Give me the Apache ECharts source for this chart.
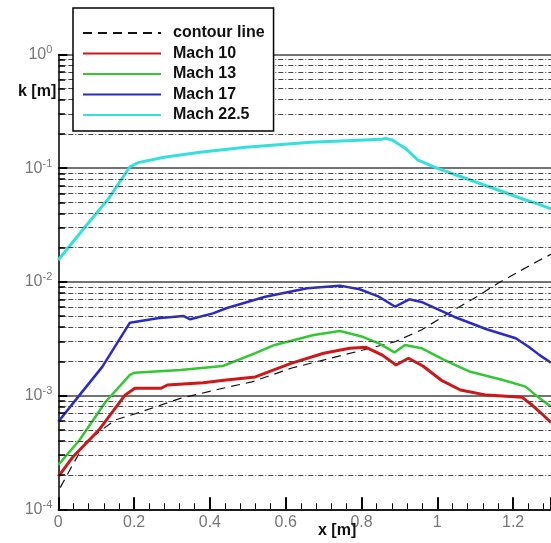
<!DOCTYPE html>
<html>
<head>
<meta charset="utf-8">
<script src="https://cdn.jsdelivr.net/npm/echarts@6/dist/echarts.min.js"></script>
<style>
html,body{margin:0;padding:0;background:#fff;}
#chart{width:551px;height:543px;}
</style>
</head>
<body>
<div id="chart"></div>
<script>
// ---- data (x [m], k [m]) ----
const seriesNames = ['contour line', 'Mach 10', 'Mach 13', 'Mach 17', 'Mach 22.5'];
const xTicks = [0, 0.2, 0.4, 0.6, 0.8, 1, 1.2];
const yDecades = [1e-4, 1e-3, 1e-2, 1e-1, 1];

const contour = [[0.005,1.55e-4],[0.035,2.37e-4],[0.073,3.94e-4],[0.15,6.1e-4],[0.219,7.2e-4],[0.322,9.46e-4],
  [0.434,1.16e-3],[0.511,1.32e-3],[0.614,1.74e-3],[0.786,2.43e-3],[0.889,2.98e-3],[0.958,3.78e-3],
  [1.044,5.66e-3],[1.104,7.41e-3],[1.16,9.73e-3],[1.263,1.51e-2],[1.3,1.75e-2]];

const mach10 = [[0,1.94e-4],[0.039,2.9e-4],[0.107,4.98e-4],[0.176,1.01e-3],[0.202,1.16e-3],[0.271,1.16e-3],
  [0.288,1.24e-3],[0.382,1.3e-3],[0.443,1.37e-3],[0.52,1.46e-3],[0.614,1.92e-3],[0.7,2.36e-3],
  [0.769,2.61e-3],[0.812,2.66e-3],[0.855,2.27e-3],[0.891,1.86e-3],[0.924,2.13e-3],[0.962,1.82e-3],
  [1.01,1.37e-3],[1.061,1.12e-3],[1.13,1.01e-3],[1.224,9.66e-4],[1.25,8.26e-4],[1.27,7.21e-4],[1.3,5.8e-4]];

const mach13 = [[0,2.45e-4],[0.056,4.07e-4],[0.125,8.83e-4],[0.189,1.52e-3],[0.202,1.59e-3],[0.322,1.68e-3],
  [0.434,1.82e-3],[0.52,2.36e-3],[0.571,2.79e-3],[0.674,3.41e-3],[0.743,3.7e-3],[0.803,3.29e-3],
  [0.846,2.88e-3],[0.887,2.4e-3],[0.915,2.79e-3],[0.958,2.61e-3],[1.018,2.06e-3],[1.087,1.62e-3],
  [1.173,1.37e-3],[1.233,1.2e-3],[1.27,9.46e-4],[1.3,8.0e-4]];

const mach17 = [[0,5.89e-4],[0.056,1.01e-3],[0.116,1.79e-3],[0.189,4.38e-3],[0.262,4.79e-3],[0.331,5.01e-3],
  [0.348,4.69e-3],[0.408,5.29e-3],[0.443,5.86e-3],[0.546,7.41e-3],[0.657,8.79e-3],[0.743,9.27e-3],
  [0.795,8.61e-3],[0.846,7.41e-3],[0.889,6.05e-3],[0.926,7.03e-3],[0.958,6.66e-3],[1.044,4.94e-3],
  [1.13,3.83e-3],[1.207,3.19e-3],[1.241,2.69e-3],[1.27,2.27e-3],[1.3,1.95e-3]];

const mach225 = [[0,1.56e-2],[0.064,2.86e-2],[0.133,5.43e-2],[0.189,0.103],[0.211,0.112],[0.279,0.125],
  [0.374,0.138],[0.494,0.153],[0.666,0.169],[0.855,0.18],[0.863,0.183],[0.881,0.177],[0.915,0.15],
  [0.949,0.118],[1.001,0.0998],[1.087,0.0787],[1.173,0.0621],[1.233,0.0525],[1.267,0.0484],[1.3,0.044]];

// minor gridline positions (2..9 x each decade)
const minorLines = [];
for (let d = 0; d < yDecades.length - 1; d++) {
  for (let m = 2; m <= 9; m++) minorLines.push(+(m * yDecades[d]).toPrecision(3));
}
const X_MIN = 0, X_MAX = 1.3;

const chart = echarts.init(document.getElementById('chart'), null, {renderer: 'canvas'});
const font = '"Liberation Sans", Arial, sans-serif';

const option = {
  backgroundColor: '#fff',
  animation: false,
  grid: {left: 58.3, right: -11.6, top: 54.5, bottom: 33.7, containLabel: false},
  legend: {
    data: seriesNames,
    orient: 'vertical',
    left: 73, top: 8,
    padding: [17, 9, 8, 9],
    itemWidth: 78, itemHeight: 14,
    itemGap: 4.5,
    backgroundColor: '#fff',
    borderColor: '#000', borderWidth: 1.5,
    itemStyle: {opacity: 0},
    textStyle: {fontFamily: font, fontWeight: 'bold', fontSize: 16, color: '#111', lineHeight: 16, padding: [0,0,0,7]},
    z: 10
  },
  xAxis: {
    type: 'value', min: X_MIN, max: X_MAX, interval: 0.2,
    axisLine: {show: true, onZero: false, lineStyle: {color: '#000', width: 1.5}},
    axisTick: {show: true, inside: true, length: 12, lineStyle: {color: '#000', width: 2}},
    minorTick: {show: true, splitNumber: 5, length: 6, lineStyle: {color: '#000', width: 1}},
    splitLine: {show: false},
    axisLabel: {
      color: '#777', fontFamily: font, fontSize: 16, margin: 5,
      formatter: function (v) { return xTicks.indexOf(+v.toFixed(2)) >= 0 ? String(+v.toFixed(1)) : ''; },
      showMaxLabel: false
    }
  },
  yAxis: {
    type: 'log', logBase: 10, min: 1e-4, max: 1, splitNumber: 4,
    axisLine: {show: true, lineStyle: {color: '#000', width: 1.5}},
    axisTick: {show: true, inside: true, length: 9, lineStyle: {color: '#000', width: 2}},
    splitLine: {show: true, lineStyle: {color: '#444', width: 1.5}},
    axisLabel: {
      margin: 6,
      formatter: function (v) { const e = Math.round(Math.log10(v)); return '{b|10}{s|' + e + '}'; },
      rich: {
        b: {fontFamily: font, fontSize: 16, color: '#777'},
        s: {fontFamily: font, fontSize: 11, color: '#777', padding: [0, 0, 9, 0]}
      }
    }
  },
  series: [
    {
      name: '_grid', type: 'line', data: [], silent: true, z: 1,
      markLine: {
        silent: true, symbol: ['none', 'none'], animation: false,
        label: {show: false},
        lineStyle: {color: '#444', width: 1, type: [5, 2, 1, 2]},
        data: minorLines.map(v => [{coord: [X_MIN, v]}, {coord: [X_MAX, v]}])
      }
    },
    {
      name: '_ticks', type: 'line', data: [], silent: true, z: 1,
      markLine: {
        silent: true, symbol: ['none', 'none'], animation: false,
        label: {show: false},
        lineStyle: {color: '#000', width: 1.5, type: 'solid'},
        data: minorLines.map(v => [{coord: [0, v]}, {coord: [0.018, v]}])
      }
    },
    {name: 'contour line', type: 'line', data: contour, symbol: 'none', z: 3,
      lineStyle: {color: '#111', width: 1.2, type: [9, 6]}, itemStyle: {color: '#111'}},
    {name: 'Mach 10', type: 'line', data: mach10, symbol: 'none', z: 4,
      lineStyle: {color: '#cc1818', width: 3}, itemStyle: {color: '#cc1818'}},
    {name: 'Mach 13', type: 'line', data: mach13, symbol: 'none', z: 4,
      lineStyle: {color: '#33c833', width: 2.5}, itemStyle: {color: '#33c833'}},
    {name: 'Mach 17', type: 'line', data: mach17, symbol: 'none', z: 4,
      lineStyle: {color: '#2a2ac8', width: 2.5}, itemStyle: {color: '#2a2ac8'}},
    {name: 'Mach 22.5', type: 'line', data: mach225, symbol: 'none', z: 4,
      lineStyle: {color: '#33e0dc', width: 3}, itemStyle: {color: '#33e0dc'}}
  ],
  graphic: [
    {type: 'text', left: 18, top: 84, z: 20,
      style: {text: 'k [m]', fontFamily: font, fontWeight: 'bold', fontSize: 16, fill: '#111'}},
    {type: 'text', left: 318, top: 523, z: 20,
      style: {text: 'x [m]', fontFamily: font, fontWeight: 'bold', fontSize: 16, fill: '#111'}}
  ]
};
chart.setOption(option);
</script>
</body>
</html>
